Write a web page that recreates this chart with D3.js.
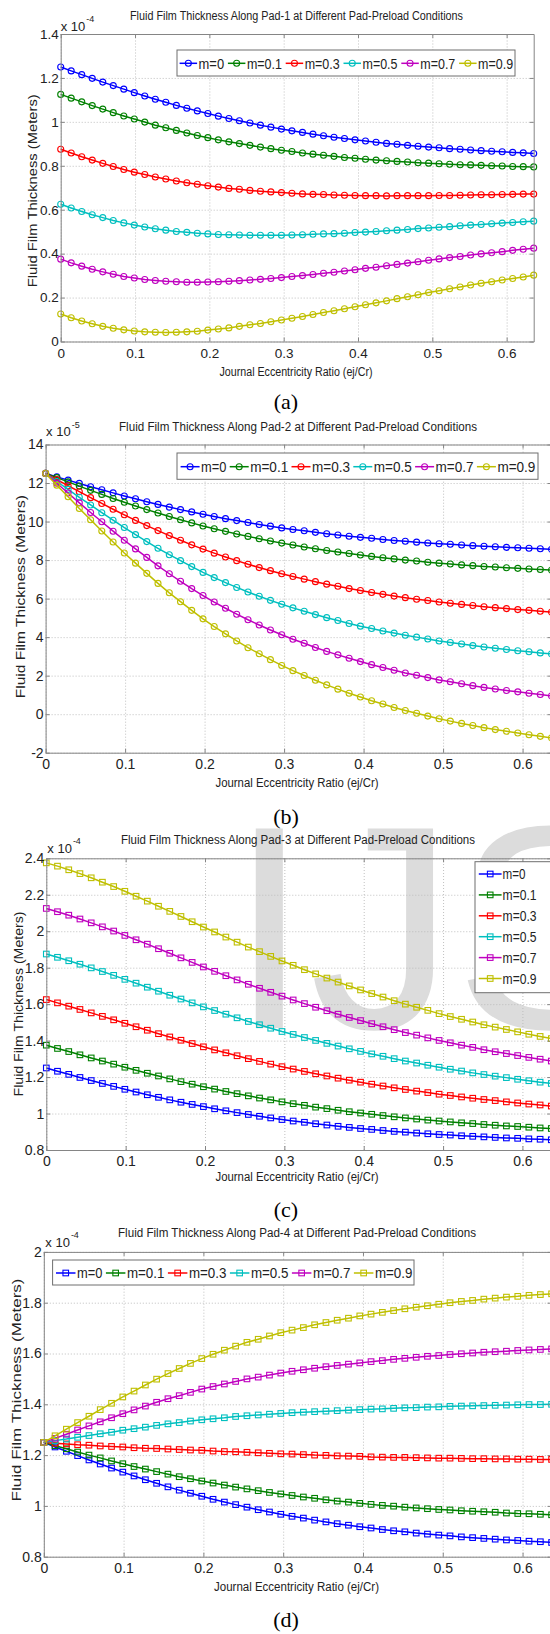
<!DOCTYPE html>
<html>
<head>
<meta charset="utf-8">
<script src="https://cdn.jsdelivr.net/npm/d3@7"></script>
<style>
  html, body { margin: 0; padding: 0; background: #ffffff; }
  svg { display: block; }
</style>
</head>
<body>
<svg id="chart" width="550" height="1634"></svg>
<script>
// ---------------------------------------------------------------
// Journal eccentricity ratio (ej/Cr) sample points, shared by all pads
// ---------------------------------------------------------------
const eccentricity = [0,0.0141,0.0283,0.0424,0.0566,0.0707,0.0849,0.0990,0.1131,0.1273,0.1414,0.1556,0.1697,0.1838,0.1980,0.2121,0.2263,0.2404,0.2546,0.2687,0.2828,0.2970,0.3111,0.3253,0.3394,0.3536,0.3677,0.3818,0.3960,0.4101,0.4243,0.4384,0.4525,0.4667,0.4808,0.4950,0.5091,0.5233,0.5374,0.5515,0.5657,0.5798,0.5940,0.6081,0.6223,0.6364];

const preloadLabels = ["m=0", "m=0.1", "m=0.3", "m=0.5", "m=0.7", "m=0.9"];
const preloadColors = ["#0000ff", "#008000", "#ff0000", "#00bfbf", "#bf00bf", "#bfbf00"];

const xTicks = [0, 0.1, 0.2, 0.3, 0.4, 0.5, 0.6];

// ---------------------------------------------------------------
// Pad-1 film thickness (x 1e-4 m)
// ---------------------------------------------------------------
const pad1YTicks = [0, 0.2, 0.4, 0.6, 0.8, 1, 1.2, 1.4];
const pad1_m0  = [1.250,1.232,1.215,1.198,1.181,1.165,1.149,1.133,1.118,1.103,1.089,1.075,1.062,1.050,1.038,1.026,1.015,1.005,0.995,0.985,0.976,0.967,0.959,0.952,0.944,0.937,0.930,0.924,0.918,0.913,0.907,0.902,0.898,0.893,0.889,0.885,0.882,0.878,0.875,0.872,0.869,0.866,0.864,0.861,0.859,0.856];
const pad1_m01 = [1.125,1.108,1.091,1.074,1.058,1.042,1.027,1.013,0.999,0.985,0.973,0.961,0.949,0.938,0.928,0.918,0.909,0.901,0.893,0.885,0.878,0.871,0.865,0.858,0.853,0.848,0.843,0.838,0.834,0.830,0.826,0.823,0.820,0.817,0.814,0.812,0.809,0.807,0.805,0.804,0.802,0.800,0.799,0.797,0.796,0.795];
const pad1_m03 = [0.875,0.858,0.841,0.826,0.811,0.797,0.783,0.771,0.760,0.749,0.740,0.731,0.723,0.716,0.709,0.703,0.697,0.693,0.688,0.684,0.681,0.678,0.675,0.672,0.670,0.669,0.667,0.666,0.665,0.664,0.664,0.663,0.664,0.664,0.664,0.664,0.665,0.665,0.666,0.667,0.668,0.668,0.669,0.670,0.671,0.671];
const pad1_m05 = [0.625,0.608,0.592,0.577,0.564,0.551,0.540,0.530,0.521,0.513,0.507,0.501,0.497,0.493,0.490,0.487,0.486,0.485,0.484,0.484,0.484,0.484,0.485,0.486,0.488,0.490,0.491,0.493,0.496,0.498,0.501,0.504,0.507,0.510,0.514,0.517,0.520,0.523,0.527,0.530,0.533,0.536,0.539,0.542,0.545,0.548];
const pad1_m07 = [0.375,0.358,0.343,0.329,0.317,0.306,0.296,0.289,0.282,0.278,0.274,0.272,0.270,0.270,0.271,0.272,0.274,0.277,0.280,0.283,0.287,0.291,0.296,0.300,0.305,0.311,0.315,0.321,0.327,0.333,0.338,0.345,0.351,0.357,0.363,0.370,0.376,0.382,0.387,0.394,0.399,0.404,0.409,0.415,0.420,0.425];
const pad1_m09 = [0.125,0.108,0.093,0.081,0.069,0.060,0.053,0.048,0.044,0.042,0.041,0.042,0.044,0.047,0.052,0.057,0.062,0.069,0.076,0.082,0.090,0.098,0.106,0.114,0.123,0.132,0.140,0.149,0.158,0.167,0.176,0.185,0.195,0.204,0.213,0.223,0.231,0.240,0.248,0.257,0.265,0.272,0.280,0.287,0.294,0.302];

// ---------------------------------------------------------------
// Pad-2 film thickness (x 1e-5 m)
// ---------------------------------------------------------------
const pad2YTicks = [-2, 0, 2, 4, 6, 8, 10, 12, 14];
const pad2_m0  = [12.50,12.32,12.15,11.98,11.81,11.65,11.49,11.33,11.18,11.03,10.89,10.75,10.62,10.50,10.38,10.26,10.15,10.05,9.95,9.85,9.76,9.67,9.59,9.52,9.44,9.37,9.30,9.24,9.18,9.13,9.07,9.02,8.98,8.93,8.89,8.85,8.82,8.78,8.75,8.72,8.69,8.66,8.64,8.61,8.59,8.56];
const pad2_m01 = [12.50,12.28,12.06,11.84,11.62,11.41,11.20,11.00,10.81,10.62,10.44,10.26,10.09,9.93,9.77,9.63,9.49,9.35,9.23,9.11,8.99,8.88,8.78,8.68,8.59,8.50,8.42,8.34,8.26,8.19,8.12,8.06,8.00,7.95,7.89,7.84,7.80,7.75,7.71,7.67,7.64,7.60,7.57,7.54,7.51,7.48];
const pad2_m03 = [12.50,12.18,11.86,11.55,11.24,10.94,10.64,10.35,10.06,9.79,9.53,9.27,9.03,8.79,8.57,8.36,8.16,7.97,7.78,7.61,7.45,7.29,7.15,7.01,6.88,6.75,6.64,6.52,6.42,6.32,6.22,6.13,6.05,5.97,5.90,5.82,5.76,5.70,5.64,5.58,5.53,5.48,5.43,5.39,5.34,5.30];
const pad2_m05 = [12.50,12.08,11.67,11.26,10.86,10.46,10.07,9.69,9.32,8.96,8.61,8.28,7.97,7.66,7.36,7.09,6.83,6.58,6.34,6.12,5.91,5.71,5.52,5.34,5.17,5.01,4.86,4.71,4.57,4.45,4.32,4.21,4.10,4.00,3.90,3.80,3.72,3.64,3.56,3.49,3.42,3.36,3.29,3.24,3.18,3.13];
const pad2_m07 = [12.50,11.99,11.48,10.97,10.47,9.99,9.50,9.03,8.58,8.14,7.70,7.29,6.90,6.52,6.16,5.82,5.50,5.19,4.90,4.63,4.37,4.12,3.89,3.68,3.46,3.26,3.08,2.90,2.73,2.57,2.42,2.28,2.14,2.02,1.90,1.78,1.68,1.58,1.48,1.39,1.31,1.23,1.16,1.09,1.02,0.95];
const pad2_m09 = [12.50,11.89,11.29,10.68,10.09,9.51,8.94,8.37,7.84,7.31,6.79,6.30,5.84,5.39,4.95,4.55,4.17,3.80,3.45,3.14,2.83,2.53,2.26,2.01,1.76,1.52,1.30,1.09,0.89,0.70,0.53,0.35,0.19,0.05,-0.10,-0.24,-0.36,-0.48,-0.59,-0.70,-0.80,-0.89,-0.98,-1.07,-1.15,-1.23];

// ---------------------------------------------------------------
// Pad-3 film thickness (x 1e-4 m)
// ---------------------------------------------------------------
const pad3YTicks = [0.8, 1, 1.2, 1.4, 1.6, 1.8, 2, 2.2, 2.4];
const pad3_m0  = [1.250,1.232,1.215,1.198,1.181,1.165,1.149,1.133,1.118,1.103,1.089,1.075,1.062,1.050,1.038,1.026,1.015,1.005,0.995,0.985,0.976,0.967,0.959,0.952,0.944,0.937,0.930,0.924,0.918,0.913,0.907,0.902,0.898,0.893,0.889,0.885,0.882,0.878,0.875,0.872,0.869,0.866,0.864,0.861,0.859,0.856];
const pad3_m01 = [1.375,1.357,1.340,1.322,1.305,1.288,1.271,1.254,1.237,1.221,1.206,1.190,1.175,1.161,1.147,1.134,1.121,1.109,1.097,1.085,1.075,1.064,1.054,1.045,1.035,1.027,1.018,1.010,1.003,0.996,0.989,0.982,0.976,0.970,0.964,0.959,0.954,0.949,0.945,0.940,0.936,0.932,0.929,0.925,0.921,0.918];
const pad3_m03 = [1.625,1.607,1.589,1.571,1.552,1.533,1.514,1.495,1.476,1.457,1.438,1.420,1.402,1.384,1.366,1.349,1.333,1.317,1.301,1.286,1.271,1.257,1.244,1.231,1.218,1.206,1.194,1.183,1.172,1.161,1.151,1.141,1.132,1.123,1.115,1.106,1.099,1.091,1.084,1.077,1.071,1.064,1.058,1.052,1.047,1.041];
const pad3_m05 = [1.875,1.857,1.838,1.819,1.799,1.779,1.758,1.736,1.715,1.693,1.671,1.649,1.628,1.607,1.585,1.565,1.545,1.525,1.505,1.487,1.468,1.450,1.434,1.417,1.401,1.385,1.370,1.355,1.341,1.327,1.314,1.301,1.288,1.277,1.265,1.254,1.243,1.233,1.223,1.214,1.205,1.197,1.188,1.180,1.172,1.165];
const pad3_m07 = [2.125,2.107,2.088,2.067,2.046,2.024,2.001,1.977,1.953,1.929,1.904,1.879,1.854,1.829,1.804,1.780,1.756,1.733,1.709,1.687,1.665,1.644,1.623,1.603,1.583,1.564,1.545,1.527,1.510,1.493,1.476,1.460,1.444,1.430,1.415,1.401,1.388,1.375,1.363,1.350,1.339,1.329,1.318,1.308,1.298,1.288];
const pad3_m09 = [2.375,2.357,2.337,2.316,2.293,2.269,2.245,2.219,2.192,2.165,2.137,2.109,2.081,2.052,2.023,1.996,1.968,1.940,1.913,1.888,1.862,1.837,1.813,1.789,1.766,1.743,1.721,1.700,1.678,1.658,1.639,1.619,1.600,1.583,1.566,1.548,1.532,1.517,1.502,1.487,1.474,1.461,1.448,1.435,1.423,1.411];

// ---------------------------------------------------------------
// Pad-4 film thickness (x 1e-4 m)
// ---------------------------------------------------------------
const pad4YTicks = [0.8, 1, 1.2, 1.4, 1.6, 1.8, 2];
const pad4_m0  = [1.250,1.232,1.215,1.198,1.181,1.165,1.149,1.133,1.118,1.103,1.089,1.075,1.062,1.050,1.038,1.026,1.015,1.005,0.995,0.985,0.976,0.967,0.959,0.952,0.944,0.937,0.930,0.924,0.918,0.913,0.907,0.902,0.898,0.893,0.889,0.885,0.882,0.878,0.875,0.872,0.869,0.866,0.864,0.861,0.859,0.856];
const pad4_m01 = [1.250,1.237,1.225,1.212,1.200,1.189,1.177,1.166,1.155,1.145,1.135,1.125,1.115,1.107,1.098,1.090,1.082,1.074,1.067,1.060,1.053,1.047,1.041,1.035,1.030,1.024,1.019,1.015,1.010,1.006,1.002,0.999,0.995,0.992,0.989,0.986,0.984,0.981,0.979,0.977,0.975,0.972,0.970,0.969,0.967,0.965];
const pad4_m03 = [1.250,1.247,1.244,1.241,1.239,1.236,1.234,1.232,1.229,1.227,1.226,1.224,1.222,1.220,1.219,1.216,1.214,1.213,1.211,1.209,1.207,1.205,1.204,1.202,1.200,1.199,1.197,1.196,1.195,1.193,1.192,1.191,1.191,1.190,1.189,1.188,1.188,1.187,1.186,1.186,1.185,1.185,1.184,1.184,1.183,1.183];
const pad4_m05 = [1.250,1.257,1.263,1.270,1.277,1.284,1.290,1.298,1.304,1.310,1.317,1.323,1.328,1.334,1.339,1.343,1.347,1.352,1.355,1.358,1.361,1.364,1.367,1.369,1.371,1.373,1.375,1.377,1.379,1.381,1.382,1.384,1.386,1.387,1.389,1.390,1.392,1.393,1.394,1.395,1.396,1.397,1.398,1.399,1.399,1.400];
const pad4_m07 = [1.250,1.266,1.282,1.299,1.315,1.331,1.347,1.363,1.378,1.393,1.408,1.422,1.434,1.447,1.460,1.470,1.480,1.490,1.500,1.507,1.515,1.523,1.530,1.536,1.542,1.548,1.553,1.558,1.563,1.568,1.572,1.577,1.581,1.585,1.589,1.592,1.596,1.599,1.602,1.605,1.607,1.609,1.612,1.614,1.616,1.618];
const pad4_m09 = [1.250,1.276,1.302,1.328,1.353,1.379,1.404,1.429,1.452,1.476,1.499,1.521,1.541,1.561,1.580,1.597,1.613,1.629,1.644,1.656,1.669,1.682,1.692,1.702,1.713,1.722,1.731,1.739,1.748,1.755,1.762,1.769,1.776,1.782,1.788,1.794,1.800,1.805,1.809,1.814,1.818,1.822,1.825,1.829,1.832,1.835];

// ---------------------------------------------------------------
// Figure layout
// ---------------------------------------------------------------
const SANS = "'Liberation Sans', Arial, Helvetica, sans-serif";
const SERIF = "'Liberation Serif', 'Times New Roman', Times, serif";
const AXIS_GREY = "#858585";
const GRID_GREY = "#b9b9b9";
const TEXT_DARK = "#222222";

const panels = [
  {
    title: "Fluid Film Thickness Along Pad-1 at Different Pad-Preload Conditions",
    series: [pad1_m0, pad1_m01, pad1_m03, pad1_m05, pad1_m07, pad1_m09],
    yDomain: [0, 1.4], yTicks: pad1YTicks, exponent: "-4",
    plot: { l: 60.7, t: 34, r: 533.7, b: 341.5 },
    tickFont: 13.5, xTickPad: 6.5,
    titlePos: { x: 296.5, y: 20.3, w: 333 },
    xlabPos: { x: 296, y: 375.5, w: 153 },
    ylabPos: { x: 37.5, y: 190.8, w: 193 },
    expPos: { dx: 0, y: 30.5 },
    caption: { text: "(a)", y: 408.5 },
    marker: "circle",
    legend: { orient: "h", box: [177, 50, 338, 26], x0: 179.6, cy: 63.3, L: 17.5, g: 1.5, w0: 25.5, w: 35, g2: 3.8, fs: 14.5 }
  },
  {
    title: "Fluid Film Thickness Along Pad-2 at Different Pad-Preload Conditions",
    series: [pad2_m0, pad2_m01, pad2_m03, pad2_m05, pad2_m07, pad2_m09],
    yDomain: [-2, 14], yTicks: pad2YTicks, exponent: "-5",
    plot: { l: 45.6, t: 444.5, r: 551.5, b: 752.7 },
    tickFont: 14, xTickPad: 6.5,
    titlePos: { x: 298, y: 430.5, w: 358 },
    xlabPos: { x: 297, y: 787, w: 163 },
    ylabPos: { x: 25.5, y: 596.7, w: 203 },
    expPos: { dx: 0.5, y: 436 },
    caption: { text: "(b)", y: 823.5 },
    marker: "circle",
    legend: { orient: "h", box: [177, 453, 361, 26.3], x0: 180.6, cy: 466.7, L: 19, g: 1.5, w0: 25.3, w: 38, g2: 3.3, fs: 15 }
  },
  {
    title: "Fluid Film Thickness Along Pad-3 at Different Pad-Preload Conditions",
    series: [pad3_m0, pad3_m01, pad3_m03, pad3_m05, pad3_m07, pad3_m09],
    yDomain: [0.8, 2.4], yTicks: pad3YTicks, exponent: "-4",
    plot: { l: 46.3, t: 858.3, r: 551.3, b: 1150 },
    tickFont: 14, xTickPad: 6,
    titlePos: { x: 298, y: 843.5, w: 354 },
    xlabPos: { x: 297, y: 1180.5, w: 163 },
    ylabPos: { x: 23, y: 1004, w: 185 },
    expPos: { dx: 1, y: 852.5 },
    caption: { text: "(c)", y: 1217 },
    marker: "square",
    legend: { orient: "v", box: [475, 861.7, 82, 131], x0: 478.8, cy: 874, dy: 20.9, L: 22.8, g: 1, w0: 23, w: 34, fs: 14.5 }
  },
  {
    title: "Fluid Film Thickness Along Pad-4 at Different Pad-Preload Conditions",
    series: [pad4_m0, pad4_m01, pad4_m03, pad4_m05, pad4_m07, pad4_m09],
    yDomain: [0.8, 2], yTicks: pad4YTicks, exponent: "-4",
    plot: { l: 43.8, t: 1251.9, r: 551.6, b: 1556.7 },
    tickFont: 14, xTickPad: 6,
    titlePos: { x: 297, y: 1236.5, w: 358 },
    xlabPos: { x: 296.5, y: 1590.5, w: 165 },
    ylabPos: { x: 20.5, y: 1390, w: 223 },
    expPos: { dx: 1.5, y: 1246.5 },
    caption: { text: "(d)", y: 1627 },
    marker: "square",
    legend: { orient: "h", box: [52.6, 1260, 361.4, 25], x0: 56, cy: 1273, L: 19.5, g: 1.5, w0: 25.4, w: 37.5, g2: 3.5, fs: 14.5 }
  }
];

const svg = d3.select("#chart");

// Faint page watermark sitting behind the Pad-3 figure
svg.append("text")
  .attr("x", 229).attr("y", 1028)
  .attr("font-family", SANS).attr("font-size", 290)
  .attr("fill", "#dcdcdc")
  .text("IJS");

function addText(parent, txt, o) {
  const t = parent.append("text")
    .attr("x", o.x).attr("y", o.y)
    .attr("font-family", o.family || SANS)
    .attr("font-size", o.size)
    .attr("fill", o.fill || TEXT_DARK)
    .attr("text-anchor", o.anchor || "start")
    .text(txt);
  if (o.w) t.attr("textLength", o.w).attr("lengthAdjust", "spacingAndGlyphs");
  if (o.rotate) t.attr("transform", `rotate(-90 ${o.x} ${o.y})`);
  return t;
}

function drawMarker(g, kind, cx, cy, color) {
  if (kind === "circle") {
    g.append("circle").attr("cx", cx).attr("cy", cy).attr("r", 3)
      .attr("fill", "none").attr("stroke", color).attr("stroke-width", 1.1);
  } else {
    g.append("rect").attr("x", cx - 2.8).attr("y", cy - 2.8)
      .attr("width", 5.6).attr("height", 5.6)
      .attr("fill", "none").attr("stroke", color).attr("stroke-width", 1.1);
  }
}

const fmt = d => String(d);

panels.forEach(p => {
  const g = svg.append("g");
  const { l, t, r, b } = p.plot;
  const x = d3.scaleLinear().domain([0, eccentricity[eccentricity.length - 1]]).range([l, r]);
  const y = d3.scaleLinear().domain(p.yDomain).range([b, t]);

  // dotted grid
  const gx = g.append("g").attr("transform", `translate(0,${b})`)
    .call(d3.axisBottom(x).tickValues(xTicks).tickSize(-(b - t)).tickFormat(() => ""));
  const gy = g.append("g").attr("transform", `translate(${l},0)`)
    .call(d3.axisLeft(y).tickValues(p.yTicks).tickSize(-(r - l)).tickFormat(() => ""));
  [gx, gy].forEach(s => {
    s.select(".domain").remove();
    s.selectAll(".tick line").attr("stroke", GRID_GREY).attr("stroke-width", 0.9)
      .attr("stroke-dasharray", "1,2");
  });

  // data curves with markers
  p.series.forEach((vals, i) => {
    const pts = vals.map((v, k) => [eccentricity[k], v]);
    g.append("path").datum(pts)
      .attr("fill", "none").attr("stroke", preloadColors[i]).attr("stroke-width", 1.5)
      .attr("d", d3.line().x(d => x(d[0])).y(d => y(d[1])));
    const mg = g.append("g");
    pts.forEach(d => drawMarker(mg, p.marker, x(d[0]), y(d[1]), preloadColors[i]));
  });

  // axes with inward ticks on all four sides
  const styleAxis = s => {
    s.select(".domain").attr("stroke", AXIS_GREY).attr("stroke-width", 1);
    s.selectAll(".tick line").attr("stroke", AXIS_GREY);
    s.selectAll(".tick text").attr("font-family", SANS).attr("font-size", p.tickFont).attr("fill", TEXT_DARK);
  };
  g.append("g").attr("transform", `translate(0,${b})`)
    .call(d3.axisBottom(x).tickValues(xTicks).tickSize(-4).tickSizeOuter(0).tickPadding(p.xTickPad).tickFormat(fmt))
    .call(styleAxis);
  g.append("g").attr("transform", `translate(0,${t})`)
    .call(d3.axisTop(x).tickValues(xTicks).tickSize(-4).tickSizeOuter(0).tickFormat(() => ""))
    .call(styleAxis);
  g.append("g").attr("transform", `translate(${l},0)`)
    .call(d3.axisLeft(y).tickValues(p.yTicks).tickSize(-4).tickSizeOuter(0).tickPadding(2).tickFormat(fmt))
    .call(styleAxis);
  g.append("g").attr("transform", `translate(${r},0)`)
    .call(d3.axisRight(y).tickValues(p.yTicks).tickSize(-4).tickSizeOuter(0).tickFormat(() => ""))
    .call(styleAxis);

  // exponent label
  const ex = addText(g, "x 10", { x: l + p.expPos.dx, y: p.expPos.y, size: 13 });
  ex.append("tspan").attr("dx", 1).attr("dy", -8.5).attr("font-size", 9).text(p.exponent);

  // titles and axis labels
  addText(g, p.title, { x: p.titlePos.x, y: p.titlePos.y, size: 12.5, anchor: "middle", w: p.titlePos.w });
  addText(g, "Journal Eccentricity Ratio (ej/Cr)", { x: p.xlabPos.x, y: p.xlabPos.y, size: 12, anchor: "middle", w: p.xlabPos.w });
  addText(g, "Fluid Film Thickness (Meters)", { x: p.ylabPos.x, y: p.ylabPos.y, size: 12.5, anchor: "middle", w: p.ylabPos.w, rotate: true });
  addText(g, p.caption.text, { x: 286, y: p.caption.y, size: 22, anchor: "middle", family: SERIF, fill: "#000" });

  // legend
  const lg = p.legend;
  const leg = g.append("g");
  leg.append("rect").attr("x", lg.box[0]).attr("y", lg.box[1]).attr("width", lg.box[2]).attr("height", lg.box[3])
    .attr("fill", "#ffffff").attr("stroke", "#6e6e6e").attr("stroke-width", 1);
  let cx = lg.x0;
  preloadLabels.forEach((lab, i) => {
    const cy = lg.orient === "h" ? lg.cy : lg.cy + i * lg.dy;
    const sx = lg.orient === "h" ? cx : lg.x0;
    leg.append("line").attr("x1", sx).attr("x2", sx + lg.L).attr("y1", cy).attr("y2", cy)
      .attr("stroke", preloadColors[i]).attr("stroke-width", 1.5);
    drawMarker(leg, p.marker, sx + lg.L / 2, cy, preloadColors[i]);
    const tw = i === 0 ? lg.w0 : lg.w;
    addText(leg, lab, { x: sx + lg.L + lg.g, y: cy + lg.fs * 0.36, size: lg.fs, w: tw });
    if (lg.orient === "h") cx = sx + lg.L + lg.g + tw + lg.g2;
  });
});
</script>
</body>
</html>
